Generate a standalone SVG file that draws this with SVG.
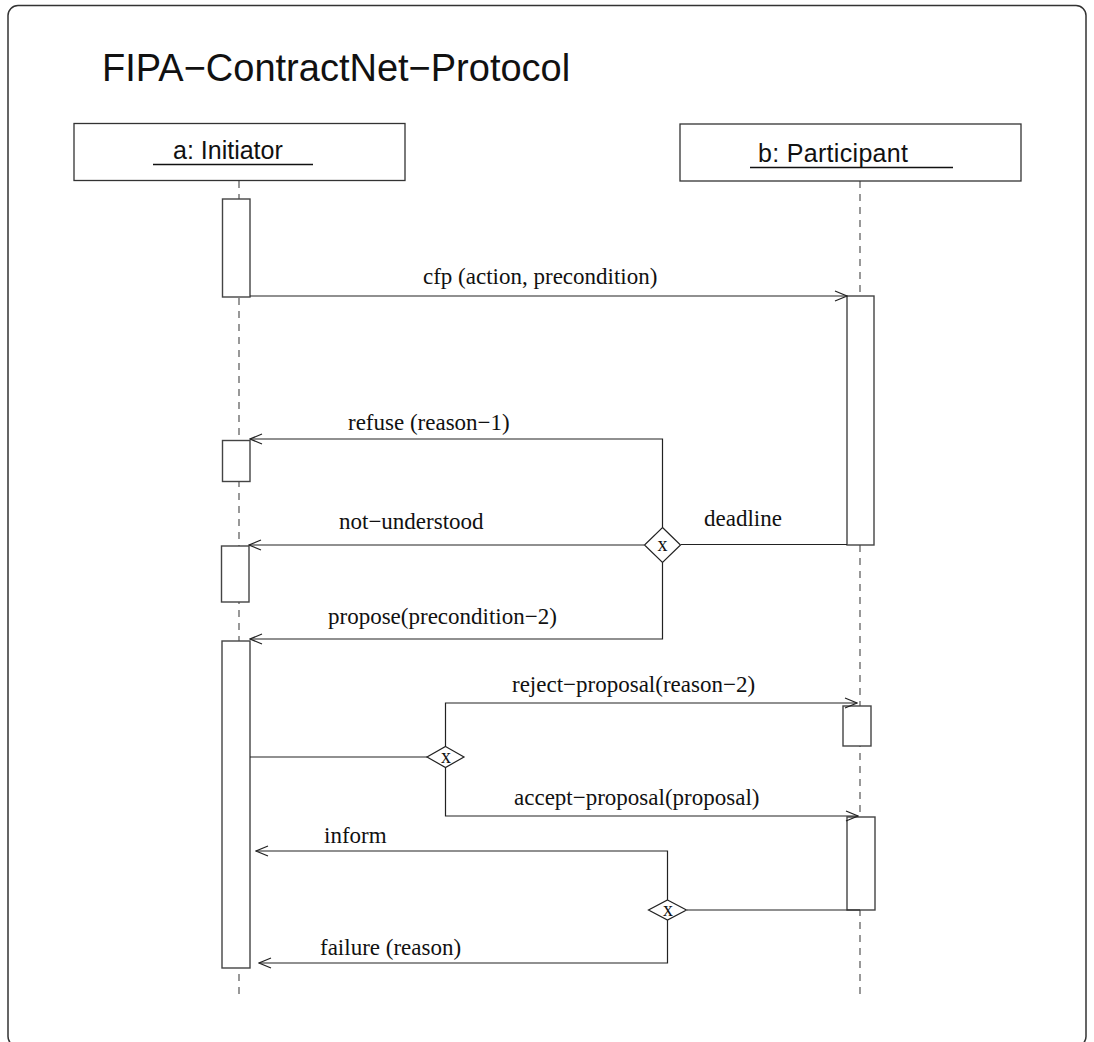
<svg xmlns="http://www.w3.org/2000/svg" width="1094" height="1042" viewBox="0 0 1094 1042">
  <style>
    .frame { fill: none; stroke: #333; stroke-width: 1.5; }
    .obj { fill: #fff; stroke: #333; stroke-width: 1.3; }
    .act { fill: #fff; stroke: #444; stroke-width: 1.4; }
    .life { stroke: #555; stroke-width: 1.2; stroke-dasharray: 7 6; fill: none; }
    .msg { stroke: #222; stroke-width: 1.2; fill: none; }
    .choice { fill: #fff; stroke: #222; stroke-width: 1.2; }
    .title { font-family: "Liberation Sans", Arial, sans-serif; font-size: 38px; fill: #111; }
    .name { font-family: "Liberation Sans", Arial, sans-serif; font-size: 25px; fill: #111; }
    .lbl { font-family: "Liberation Serif", "Times New Roman", serif; font-size: 23px; fill: #111; }
    .x { font-family: "Liberation Serif", "Times New Roman", serif; font-size: 20px; fill: #111; text-anchor: middle; }
  </style>
  <defs>
    <marker id="open" markerUnits="userSpaceOnUse" markerWidth="14" markerHeight="12" refX="13" refY="6" orient="auto">
      <path d="M1,1 L13,6 L1,11" fill="none" stroke="#222" stroke-width="1.2"/>
    </marker>
  </defs>

  <rect class="frame" x="8" y="5.5" width="1078" height="1041" rx="10"/>
  <text class="title" x="102" y="81">FIPA−ContractNet−Protocol</text>

  <!-- lifelines -->
  <g id="lifelines">
    <line class="life" x1="239" y1="181" x2="239" y2="997"/>
    <line class="life" x1="860" y1="181" x2="860" y2="998"/>
  </g>

  <g id="initiator">
    <rect class="obj" x="74" y="123.5" width="331" height="57"/>
    <text class="name" x="173" y="159">a: Initiator</text>
    <line x1="153" y1="164.5" x2="313" y2="164.5" stroke="#111" stroke-width="1.3"/>
  </g>

  <g id="participant">
    <rect class="obj" x="680" y="124" width="341" height="57"/>
    <text class="name" x="758" y="162" textLength="150">b: Participant</text>
    <line x1="750" y1="167.5" x2="953" y2="167.5" stroke="#111" stroke-width="1.3"/>
  </g>

  <!-- activation bars -->
  <g id="activations">
    <rect class="act" x="222.5" y="199" width="27.5" height="98"/>
    <rect class="act" x="847" y="296" width="27" height="249"/>
    <rect class="act" x="222.5" y="440.5" width="27.5" height="41"/>
    <rect class="act" x="221.5" y="546" width="27.5" height="56"/>
    <rect class="act" x="222" y="641" width="28" height="327"/>
    <rect class="act" x="843" y="706" width="28" height="40"/>
    <rect class="act" x="847" y="817" width="28" height="93"/>
  </g>

  <!-- messages -->
  <g id="connectors">
    <line class="msg" x1="250" y1="296" x2="847" y2="296" marker-end="url(#open)"/>
    <polyline class="msg" points="662.5,562.5 662.5,639 250,639" marker-end="url(#open)"/>
    <polyline class="msg" points="662.5,527.5 662.5,439 250,439" marker-end="url(#open)"/>
    <line class="msg" x1="644" y1="545" x2="249" y2="545" marker-end="url(#open)"/>
    <line class="msg" x1="681" y1="544.5" x2="847" y2="544.5"/>

    <line class="msg" x1="250" y1="757" x2="427" y2="757"/>
    <polyline class="msg" points="445.5,746.5 445.5,703 857,703" marker-end="url(#open)"/>
    <polyline class="msg" points="445.5,767.5 445.5,816 858,816" marker-end="url(#open)"/>

    <line class="msg" x1="687" y1="910" x2="860" y2="910"/>
    <polyline class="msg" points="667.5,900 667.5,851 256,851" marker-end="url(#open)"/>
    <polyline class="msg" points="667.5,920 667.5,963 259,963" marker-end="url(#open)"/>
  </g>

  <!-- choice points -->
  <g id="choice1">
    <polygon class="choice" points="662.5,527.5 680.5,545 662.5,562.5 644.5,545"/>
    <text class="x" x="662.5" y="551">x</text>
  </g>
  <g id="choice2">
    <polygon class="choice" points="445.5,746.5 464,757 445.5,767.5 427,757"/>
    <text class="x" x="446" y="763">x</text>
  </g>
  <g id="choice3">
    <polygon class="choice" points="667.5,900 686.5,910 667.5,920 648.5,910"/>
    <text class="x" x="668" y="916">x</text>
  </g>

  <!-- message labels -->
  <g id="labels">
    <text class="lbl" x="423" y="284">cfp (action, precondition)</text>
    <text class="lbl" x="348" y="430">refuse (reason−1)</text>
    <text class="lbl" x="339" y="529">not−understood</text>
    <text class="lbl" x="704" y="526">deadline</text>
    <text class="lbl" x="328" y="624">propose(precondition−2)</text>
    <text class="lbl" x="512" y="692">reject−proposal(reason−2)</text>
    <text class="lbl" x="514" y="805">accept−proposal(proposal)</text>
    <text class="lbl" x="324" y="843">inform</text>
    <text class="lbl" x="320" y="955">failure (reason)</text>
  </g>
</svg>
